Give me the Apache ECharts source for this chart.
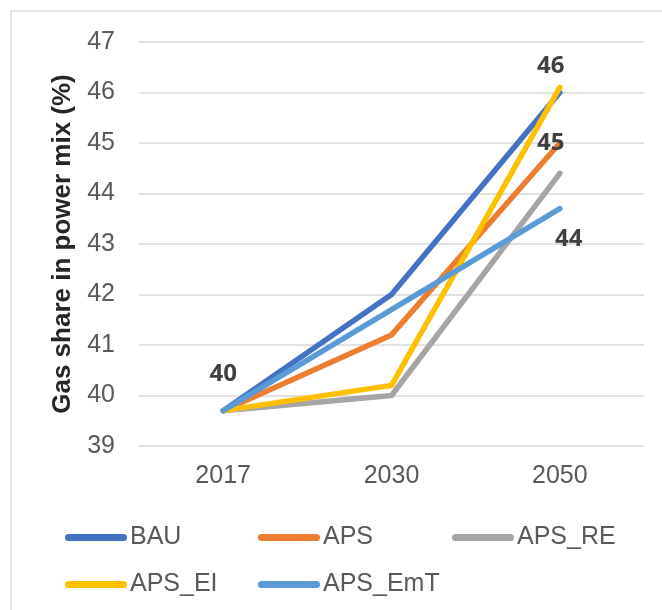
<!DOCTYPE html>
<html>
<head>
    <meta charset='utf-8'/>
    <title>Gas share in power mix</title>
    <style>
        body {
            margin: 0;
            padding: 0;
            background: #fff;
        }

        #chart {
            width: 662px;
            height: 610px;
        }
    </style>
</head>
<body>
<div id='chart'></div>
<script type="text/javascript" src="https://cdn.jsdelivr.net/npm/echarts@6/dist/echarts.min.js"></script>
<script type="text/javascript">
    var years = ['2017', '2030', '2050'];
    var seriesNames = ['BAU', 'APS', 'APS_RE', 'APS_EI', 'APS_EmT'];
    var bau = [39.7, 42.0, 46.0];
    var aps = [39.7, 41.2, 45.0];
    var apsRE = [39.7, 40.0, 44.4];
    var apsEI = [39.7, 40.2, 46.1];
    var apsEmT = [39.7, 41.7, 43.7];
    var colors = ['#4472C4', '#ED7D31', '#A5A5A5', '#FFC000', '#5B9BD5'];

    // which points carry a value label, and the label's offset from the point
    var labelSpots = {
        'BAU': {0: [0, -36]},
        'APS': {2: [-9, 0]},
        'APS_EI': {2: [-9, -21]},
        'APS_EmT': {2: [9, 31]}
    };

    var values = [bau, aps, apsRE, apsEI, apsEmT];
    var axisFont = 'Liberation Sans, Arial, sans-serif';

    var chart = echarts.init(document.getElementById('chart'));

    var series = seriesNames.map(function (name, i) {
        var spots = labelSpots[name] || {};
        return {
            name: name,
            type: 'line',
            showSymbol: true,
            symbol: 'circle',
            symbolSize: 0,
            z: 2 + i,
            lineStyle: {width: 5.5, color: colors[i], cap: 'round', join: 'round'},
            itemStyle: {color: colors[i]},
            emphasis: {disabled: true},
            data: values[i].map(function (v, j) {
                var item = {value: v};
                if (spots[j]) {
                    item.label = {
                        show: true,
                        position: 'inside',
                        offset: spots[j],
                        formatter: function (p) { return Math.round(p.value); },
                        fontFamily: 'Open Sans, sans-serif',
                        fontWeight: 'bold',
                        fontSize: 24,
                        color: '#404040'
                    };
                }
                return item;
            })
        };
    });

    // legend laid out as columns, like the original
    var legendCols = [60, 253, 447];
    var legends = seriesNames.map(function (name, i) {
        return {
            data: [name],
            left: legendCols[i % 3],
            top: i < 3 ? 520 : 567,
            icon: 'path://M3.5,0 H58.5 A3.5,3.5 0 0 1 58.5,7 H3.5 A3.5,3.5 0 0 1 3.5,0 Z',
            itemWidth: 62,
            itemHeight: 7,
            itemGap: 0,
            selectedMode: false,
            textStyle: {fontFamily: axisFont, fontSize: 25, color: '#595959', padding: [0, 0, 0, -2]}
        };
    });

    var option = {
        animation: false,
        color: colors,
        graphic: [{
            type: 'rect',
            shape: {x: 11, y: 11, width: 720, height: 720},
            style: {fill: 'none', stroke: '#d9d9d9', lineWidth: 1.5}
        }],
        legend: legends,
        grid: {left: 139, right: 18, top: 42, bottom: 164},
        xAxis: {
            type: 'category',
            data: years,
            boundaryGap: true,
            axisLine: {show: false},
            axisTick: {show: false},
            axisLabel: {fontFamily: axisFont, fontSize: 25, color: '#595959', margin: 18}
        },
        yAxis: {
            type: 'value',
            min: 39,
            max: 47,
            interval: 1,
            name: 'Gas share in power mix (%)',
            nameLocation: 'middle',
            nameGap: 63,
            nameTextStyle: {fontFamily: axisFont, fontSize: 26, fontWeight: 'bold', color: '#262626'},
            axisLine: {show: false},
            axisTick: {show: false},
            splitLine: {lineStyle: {color: '#d9d9d9', width: 1.5}},
            axisLabel: {fontFamily: axisFont, fontSize: 25, color: '#595959', margin: 24}
        },
        series: series
    };

    chart.setOption(option);
</script>
</body>
</html>
